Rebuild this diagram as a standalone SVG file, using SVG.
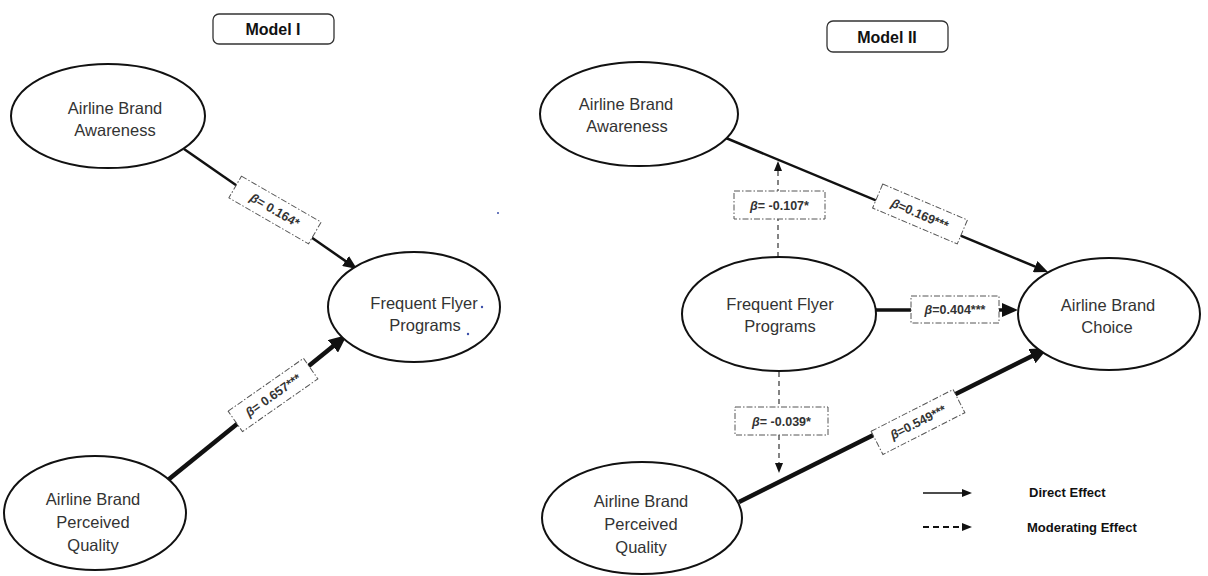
<svg xmlns="http://www.w3.org/2000/svg" width="1208" height="576" viewBox="0 0 1208 576">
<style>
.node{fill:#fff;stroke:#111;stroke-width:2}
.nt{font-family:"Liberation Sans",Arial,sans-serif;font-size:16.5px;fill:#333;text-anchor:middle}
.ttl{fill:#fff;stroke:#333;stroke-width:1.3}
.tt{font-family:"Liberation Sans",Arial,sans-serif;font-size:16px;font-weight:bold;fill:#111;text-anchor:middle}
.lb{fill:#fff;stroke:#555;stroke-width:1;stroke-dasharray:6,2,1.5,2}
.lt{font-family:"Liberation Sans",Arial,sans-serif;font-size:12.5px;font-weight:bold;fill:#333;text-anchor:middle}
.b{font-style:italic}
.e1{stroke:#111;stroke-width:2.5;fill:none}
.e2{stroke:#111;stroke-width:3.5;fill:none}
.e3{stroke:#111;stroke-width:4.5;fill:none}
.d{stroke:#333;stroke-width:1.2;fill:none;stroke-dasharray:5,4}
.lg{font-family:"Liberation Sans",Arial,sans-serif;font-size:13px;font-weight:bold;fill:#111}
</style>
<defs>
<marker id="ah" markerUnits="userSpaceOnUse" markerWidth="14" markerHeight="12" refX="8" refY="6" orient="auto"><path d="M0,0 L14,6 L0,12 z" fill="#111"/></marker>
<marker id="ahM" markerUnits="userSpaceOnUse" markerWidth="16" markerHeight="14" refX="8" refY="7" orient="auto"><path d="M0,0 L16,7 L0,14 z" fill="#111"/></marker>
<marker id="ahL" markerUnits="userSpaceOnUse" markerWidth="18" markerHeight="16" refX="8" refY="8" orient="auto"><path d="M0,0 L18,8 L0,16 z" fill="#111"/></marker>
<marker id="ahS" markerUnits="userSpaceOnUse" markerWidth="10" markerHeight="8" refX="4" refY="4" orient="auto"><path d="M0,0 L10,4 L0,8 z" fill="#111"/></marker>
</defs>

<g id="connectors">
<line class="e1" x1="184" y1="149" x2="352.1" y2="265.6" marker-end="url(#ah)"/>
<line class="e3" x1="163" y1="484" x2="339.2" y2="341.3" marker-end="url(#ahL)"/>
<line class="e1" x1="726" y1="138" x2="1042.5" y2="269.7" marker-end="url(#ah)"/>
<line class="e2" x1="876" y1="310" x2="1010" y2="310" marker-end="url(#ahM)"/>
<line class="e3" x1="739" y1="502" x2="1039.1" y2="352.5" marker-end="url(#ahL)"/>
<line class="d" x1="778" y1="257" x2="778" y2="167" marker-end="url(#ahS)"/>
<line class="d" x1="779" y1="372" x2="779" y2="467" marker-end="url(#ahS)"/>
</g>

<g id="labels">
<g transform="translate(275,210) rotate(30)"><rect class="lb" x="-46" y="-12.5" width="92" height="25"/><text class="lt" y="4.5"><tspan class="b">β</tspan>= 0.164*</text></g>
<g transform="translate(273,395) rotate(-35)"><rect class="lb" x="-46" y="-12.5" width="92" height="25"/><text class="lt" y="4.5"><tspan class="b">β</tspan>= 0.657***</text></g>
<g transform="translate(920,214) rotate(23)"><rect class="lb" x="-46" y="-13" width="92" height="26"/><text class="lt" y="4.5"><tspan class="b">β</tspan>=0.169***</text></g>
<g transform="translate(918,422) rotate(-27)"><rect class="lb" x="-46" y="-13" width="92" height="26"/><text class="lt" y="4.5"><tspan class="b">β</tspan>=0.549***</text></g>
<g><rect class="lb" x="734" y="191" width="91" height="28"/><text class="lt" x="779.5" y="209.5"><tspan class="b">β</tspan>= -0.107*</text></g>
<g><rect class="lb" x="735" y="407" width="93" height="28"/><text class="lt" x="781.5" y="425.5"><tspan class="b">β</tspan>= -0.039*</text></g>
<g><rect class="lb" x="911" y="296" width="88" height="27"/><text class="lt" x="955" y="314"><tspan class="b">β</tspan>=0.404***</text></g>
</g>

<g id="title1"><rect class="ttl" x="213" y="14" width="121" height="30" rx="6"/><text class="tt" x="273" y="35">Model I</text></g>
<g id="title2"><rect class="ttl" x="827" y="21" width="121" height="31" rx="6"/><text class="tt" x="887" y="42.5">Model II</text></g>

<g id="aw1"><ellipse class="node" cx="108" cy="116" rx="97" ry="52"/><text class="nt" x="115" y="114">Airline Brand</text><text class="nt" x="115" y="136">Awareness</text></g>
<g id="ffp1"><ellipse class="node" cx="414" cy="307" rx="86" ry="55"/><text class="nt" x="424" y="309">Frequent Flyer</text><text class="nt" x="425" y="331">Programs</text></g>
<g id="pq1"><ellipse class="node" cx="95" cy="513" rx="91" ry="57"/><text class="nt" x="93" y="505">Airline Brand</text><text class="nt" x="93" y="528">Perceived</text><text class="nt" x="93" y="551">Quality</text></g>

<g id="aw2"><ellipse class="node" cx="639" cy="114" rx="99" ry="52"/><text class="nt" x="626" y="110">Airline Brand</text><text class="nt" x="627" y="132">Awareness</text></g>
<g id="ffp2"><ellipse class="node" cx="779" cy="314" rx="97" ry="57"/><text class="nt" x="780" y="310">Frequent Flyer</text><text class="nt" x="780" y="332">Programs</text></g>
<g id="choice"><ellipse class="node" cx="1109" cy="314" rx="91" ry="56"/><text class="nt" x="1108" y="311">Airline Brand</text><text class="nt" x="1107" y="333">Choice</text></g>
<g id="pq2"><ellipse class="node" cx="642" cy="518" rx="100" ry="56"/><text class="nt" x="641" y="507">Airline Brand</text><text class="nt" x="641" y="530">Perceived</text><text class="nt" x="641" y="553">Quality</text></g>

<g id="legend">
<line stroke="#111" stroke-width="1.6" x1="923" y1="493" x2="966" y2="493" marker-end="url(#ahS)"/>
<line stroke="#111" stroke-width="2" stroke-dasharray="6,4" x1="923" y1="527" x2="966" y2="527" marker-end="url(#ahS)"/>
<text class="lg" x="1029" y="497">Direct Effect</text>
<text class="lg" x="1027" y="532">Moderating Effect</text>
</g>

<g id="specks" fill="#3b4fa8">
<circle cx="482" cy="307" r="1.2"/><circle cx="468" cy="334" r="1.2"/><circle cx="498" cy="213" r="1"/>
</g>
</svg>
